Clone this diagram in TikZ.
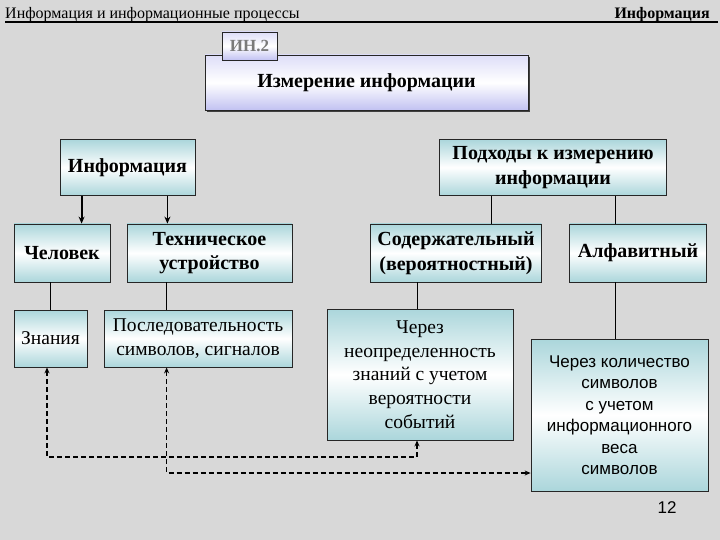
\documentclass[tikz,border=0pt]{standalone}
\usepackage{fontspec}
\setmainfont{Liberation Serif}
\newfontfamily\arialfont{Liberation Sans}
\usepackage{xcolor}
\usetikzlibrary{arrows.meta,positioning,shadows}
\definecolor{slidegray}{HTML}{D8D8D8}
\definecolor{boxteal}{HTML}{ABD6DB}
\definecolor{titlelav}{HTML}{C2C2F2}
\definecolor{tagtext}{HTML}{7A7A7A}

\begin{document}
\begin{tikzpicture}[x=1pt, y=-1pt,
  box/.style={draw=black!85, line width=0.8pt, align=center, inner sep=1pt,
              top color=boxteal, bottom color=boxteal, middle color=white,
              font=\fontsize{19.5}{23.7}\selectfont},
  bbox/.style={box, font=\fontsize{20}{24.7}\selectfont\bfseries},
  sbox/.style={box, font=\fontsize{17}{21.5}\selectfont\arialfont},
  lav/.style={draw=black!85, line width=0.8pt, align=center,
              top color=titlelav!55, bottom color=titlelav, middle color=white},
  arr/.style={-{Stealth[length=7pt,width=6pt]}, line width=1.8pt},
  link/.style={line width=0.8pt},
  dash2/.style={{Stealth[length=6pt,width=5pt]}-{Stealth[length=6pt,width=5pt]},
                line width=1.7pt, dash pattern=on 5pt off 3pt}]
\fill[slidegray] (0,0) rectangle (720,540);
\useasboundingbox (0,0) rectangle (720,540);
% header
\node[anchor=base west, inner sep=0pt, font=\fontsize{16}{18}\selectfont] (hleft) at (5,19) {Информация и информационные процессы};
\node[anchor=base east, inner sep=0pt, font=\fontsize{16}{18}\selectfont\bfseries] (hright) at (710,19) {Информация};
\draw[line width=1.4pt] (hleft.base west) ++(0,3) coordinate (ul) -- (ul -| 718,0);
% title
\node[lav, drop shadow={shadow xshift=2pt, shadow yshift=-2pt, fill=black!75, opacity=1},
      minimum width=323pt, minimum height=55pt, font=\fontsize{20}{24}\selectfont\bfseries] (title) at (366.5,82.5) {Измерение информации};
\node[lav, minimum width=55pt, minimum height=28pt, text=tagtext,
      font=\fontsize{17}{19}\selectfont\bfseries] (tag) at (249.5,46) {ИН.2};
% boxes
\node[bbox, minimum width=135pt, minimum height=56pt] (inf) at (127.5,167.5) {Информация};
\node[bbox, minimum width=227pt, minimum height=56pt] (app) at (553,167.5) {Подходы к измерению\\информации};
\node[bbox, minimum width=96pt, minimum height=58pt] (man) at (62,253) {Человек};
\node[bbox, minimum width=165pt, minimum height=58pt] (tech) at (209.5,253) {Техническое\\устройство};
\node[bbox, minimum width=171pt, minimum height=58pt] (cont) at (456,253) {Содержательный\\(вероятностный)};
\node[bbox, minimum width=137pt, minimum height=58pt] (alph) at (638,253) {Алфавитный};
\node[box, minimum width=73pt, minimum height=57pt] (know) at (50.5,338.5) {Знания};
\node[box, minimum width=188pt, minimum height=57pt] (seq) at (198,338.5) {Последовательность\\символов, сигналов};
\node[box, minimum width=186pt, minimum height=131pt] (unc) at (420,374.5) {Через\\неопределенность\\знаний с учетом\\вероятности\\событий};
\node[sbox, minimum width=177pt, minimum height=152pt] (cnt) at (619.5,415) {Через количество\\символов\\с учетом\\информационного\\веса\\символов};
\node[font=\fontsize{17}{19}\selectfont\arialfont] (page) at (667,508) {12};
\coordinate (mid) at (0,457);
\coordinate (low) at (0,473);
\coordinate (knowdrop) at ([xshift=-3.5pt]know.south);
\coordinate (uncdrop) at ([xshift=-3pt]unc.south);
\coordinate (seqdrop) at ([xshift=63pt]seq.south west);
% connectors
\draw[arr] ([xshift=22pt]inf.south west) -- ([xshift=22pt]inf.south west |- man.north);
\draw[arr] ([xshift=-28pt]inf.south east) -- ([xshift=-28pt]inf.south east |- tech.north);
\draw[link] (man.south -| know.north) -- (know.north);
\draw[link] ([xshift=40pt]tech.south west) -- ([xshift=40pt]tech.south west |- seq.north);
\draw[link] ([xshift=52pt]app.south west) -- ([xshift=52pt]app.south west |- cont.north);
\draw[link] ([xshift=-23pt]alph.north) -- ([xshift=-23pt]alph.north |- app.south);
\draw[link] ([xshift=-39pt]cont.south) -- ([xshift=-39pt]cont.south |- unc.north);
\draw[link] ([xshift=-23pt]alph.south) -- ([xshift=-23pt]alph.south |- cnt.north);
\draw[dash2] (knowdrop) -- (knowdrop |- mid) -- (uncdrop |- mid) -- (uncdrop);
\draw[dash2] (seqdrop) -- (seqdrop |- low) -- (cnt.west |- low);
\end{tikzpicture}
\end{document}
